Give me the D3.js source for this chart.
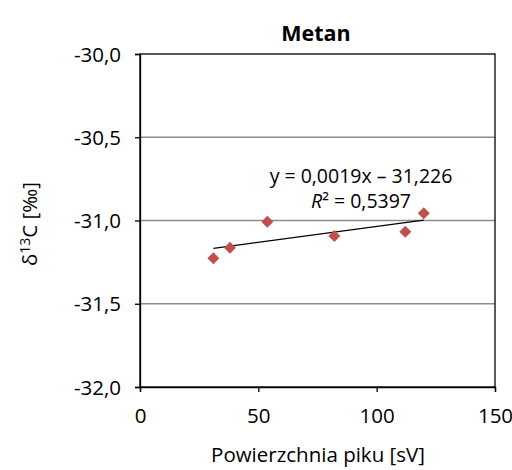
<!DOCTYPE html>
<html>
<head>
<meta charset="utf-8">
<script src="https://cdn.jsdelivr.net/npm/d3@7"></script>
<style>
  body { margin: 0; background: #fff; }
  svg text { font-family: "Open Sans", "Liberation Sans", sans-serif; fill: #000; }
</style>
</head>
<body>
<div id="chart"></div>
<script>
// peak area [sV] vs delta 13C
var xValues = [31.0, 38.0, 53.8, 82.1, 112.1, 119.9];
var yValues = [-31.227, -31.163, -31.007, -31.093, -31.067, -30.957];
var xTicks = [0, 50, 100, 150];
var yTicks = [-30.0, -30.5, -31.0, -31.5, -32.0];
var trendSlope = 0.0019, trendIntercept = -31.226;

var data = xValues.map(function (x, i) { return {x: x, y: yValues[i]}; });

var margin = {top: 54, right: 17, bottom: 83, left: 140},
    width = 512 - margin.left - margin.right,
    height = 470 - margin.top - margin.bottom;

var svg = d3.select("#chart")
    .append("svg")
    .attr("width", 512)
    .attr("height", 470);

var g = svg.append("g")
    .attr("transform", "translate(" + margin.left + "," + margin.top + ")");

var x = d3.scaleLinear().domain([0, 150]).range([0, width]);
var y = d3.scaleLinear().domain([-32, -30]).range([height, 0]);

// grid lines
g.append("g")
    .selectAll("line")
    .data(yTicks.filter(function (d) { return d > -32 && d < -30; }))
    .enter()
    .append("line")
    .attr("x1", 0)
    .attr("x2", width)
    .attr("y1", function (d) { return y(d); })
    .attr("y2", function (d) { return y(d); })
    .attr("stroke", "#8c8c8c")
    .attr("stroke-width", 1.3);

// plot frame
g.append("rect")
    .attr("width", width)
    .attr("height", height)
    .attr("fill", "none")
    .attr("stroke", "#000")
    .attr("stroke-width", 1.3);

var fmt = function (d) { return d3.format(".1f")(d).replace(".", ",").replace("−", "-"); };

var yAxis = g.append("g")
    .call(d3.axisLeft(y).tickValues(yTicks).tickSize(5).tickPadding(14).tickFormat(fmt));
yAxis.select(".domain").attr("stroke-width", 1.3);
yAxis.selectAll(".tick line").attr("stroke-width", 1.3);
yAxis.selectAll("text").style("font-size", "20.5px").attr("dy", "0.35em");

var xAxis = g.append("g")
    .attr("transform", "translate(0," + height + ")")
    .call(d3.axisBottom(x).tickValues(xTicks).tickSize(5).tickPadding(16).tickFormat(d3.format("d")));
xAxis.select(".domain").attr("stroke-width", 1.3);
xAxis.selectAll(".tick line").attr("stroke-width", 1.3);
xAxis.selectAll("text").style("font-size", "20.5px");

// trend line across data range
var xExt = d3.extent(xValues);
g.append("line")
    .attr("x1", x(xExt[0]))
    .attr("x2", x(xExt[1]))
    .attr("y1", y(trendSlope * xExt[0] + trendIntercept))
    .attr("y2", y(trendSlope * xExt[1] + trendIntercept))
    .attr("stroke", "#000")
    .attr("stroke-width", 1.3);

// markers
g.append("g")
    .selectAll("path")
    .data(data)
    .enter()
    .append("path")
    .attr("d", "M0,-6L6,0L0,6L-6,0Z")
    .attr("transform", function (d) { return "translate(" + x(d.x) + "," + y(d.y) + ")"; })
    .attr("fill", "#C0504D");

// equation
g.append("text")
    .attr("x", 221)
    .attr("y", 129)
    .attr("text-anchor", "middle")
    .style("font-size", "19.5px")
    .text("y = 0,0019x – 31,226");

var r2 = g.append("text")
    .attr("x", 221)
    .attr("y", 154)
    .attr("text-anchor", "middle")
    .style("font-size", "19.5px");
r2.append("tspan").style("font-style", "italic").text("R");
r2.append("tspan").text("² = 0,5397");

// title
svg.append("text")
    .attr("x", 316)
    .attr("y", 41)
    .attr("text-anchor", "middle")
    .style("font-size", "21.5px")
    .style("font-weight", "bold")
    .text("Metan");

// axis titles
svg.append("text")
    .attr("x", 318)
    .attr("y", 462)
    .attr("text-anchor", "middle")
    .style("font-size", "20.5px")
    .text("Powierzchnia piku [sV]");

var yl = svg.append("text")
    .attr("transform", "translate(37,224) rotate(-90)")
    .attr("text-anchor", "middle")
    .style("font-size", "20.5px");
yl.append("tspan").text("δ");
yl.append("tspan").attr("dy", -7).style("font-size", "14px").text("13");
yl.append("tspan").attr("dy", 7).text("C [‰]");
</script>
</body>
</html>
